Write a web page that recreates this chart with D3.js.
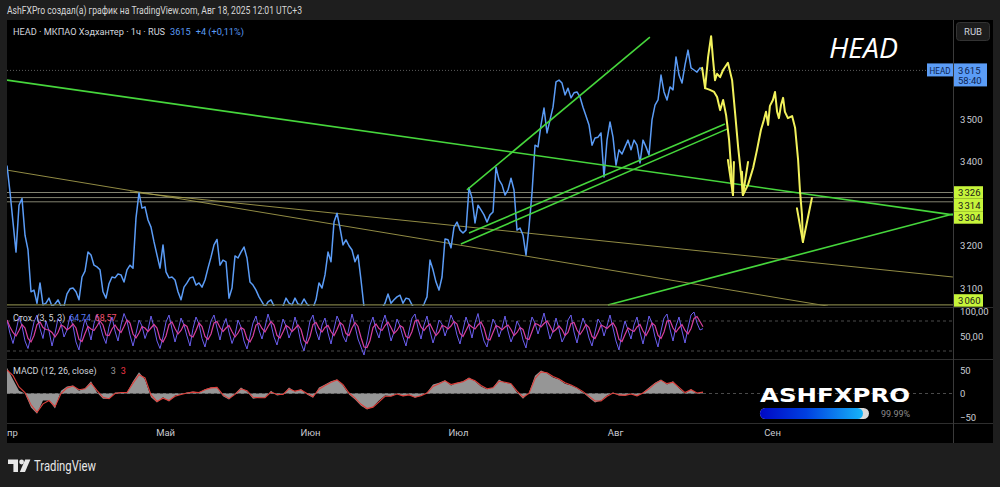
<!DOCTYPE html>
<html><head><meta charset="utf-8">
<script src="https://cdn.jsdelivr.net/npm/d3@7"></script>
<style>html,body{margin:0;padding:0;background:#1e1e1e;overflow:hidden}</style>
</head><body>
<svg id="c" width="1000" height="487"></svg>
<script>
// ---------- DATA ----------
const priceValues = [
3390,3327,3256,3185,3296,3312,3225,3190,3091,3095,
3064,3112,3060,3064,3076,3057,3062,3072,3057,3057,
3086,3098,3100,3091,3072,3126,3140,3185,3178,3154,
3150,3143,3091,3076,3110,3126,3124,3133,3131,3114,
3143,3154,3147,3266,3325,3289,3292,3261,3244,3209,
3178,3147,3202,3138,3124,3126,3119,3091,3072,3102,
3112,3124,3126,3107,3112,3102,3119,3147,3173,3202,
3215,3154,3166,3162,3076,3100,3176,3171,3185,3197,
3171,3114,3107,3095,3079,3067,3055,3067,3072,3057,
3053,3053,3057,3076,3064,3060,3076,3062,3060,3074,
3062,3055,3053,3072,3112,3100,3131,3185,3162,3256,
3277,3242,3202,3214,3200,3190,3162,3178,3119,3055,
3045,3042,3040,3043,3047,3052,3064,3086,3064,3072,
3079,3083,3064,3076,3074,3060,3050,3048,3050,3062,
3079,3166,3143,3114,3095,3126,3216,3214,3195,3244,
3256,3237,3230,3237,3337,3313,3254,3296,3285,3273,
3256,3273,3280,3386,3356,3344,3320,3332,3360,3332,
3237,3242,3225,3178,3244,3325,3438,3434,3486,3526,
3467,3498,3528,3588,3592,3585,3557,3573,3550,3562,
3564,3552,3528,3507,3486,3438,3455,3457,3467,3363,
3450,3493,3457,3391,3427,3417,3434,3450,3427,3450,
3438,3396,3450,3434,3415,3498,3533,3545,3604,3564,
3545,3576,3569,3647,3604,3585,3628,3663,3621,3616,
3611,3621,3615];

const stochK = [
82,55,35,60,88,70,40,25,50,78,
92,65,45,80,60,30,55,85,75,48,
62,90,70,38,22,58,84,66,42,75,
93,72,50,35,68,88,60,40,72,95,
80,52,30,55,82,70,45,62,90,68,
40,25,48,78,92,64,38,60,86,72,
50,30,65,88,74,45,28,55,80,92,
66,42,70,85,58,35,52,82,68,40,
24,50,76,90,62,44,68,94,74,48,
32,58,84,70,46,62,88,66,36,20,
48,80,92,60,42,72,86,56,34,64,
90,76,50,38,66,94,70,44,28,12,
40,72,88,62,46,74,92,68,40,58,
84,70,48,30,60,86,94,66,44,72,
90,60,36,56,82,74,50,68,92,78,
52,34,62,88,70,46,76,95,64,40,
28,58,84,72,48,66,90,60,38,54,
80,68,42,26,62,88,76,54,74,96,
70,44,60,86,64,38,50,82,92,58,
36,64,86,70,46,30,58,84,74,50,
70,92,66,40,22,56,80,62,44,72,
88,58,34,62,90,76,48,28,60,86,
94,64,40,70,88,60,36,66,92,98,
76,62,64.74];

const stochD = [
82,68,57,50,61,73,66,45,38,51,
73,78,67,63,62,57,48,57,72,69,
62,67,74,66,43,39,55,69,64,61,
70,80,72,52,51,64,72,63,57,69,
82,76,54,46,56,69,66,59,66,73,
66,44,38,50,73,78,65,54,61,73,
69,51,48,61,76,69,49,43,54,76,
79,67,59,66,71,59,48,56,67,63,
44,38,50,72,76,65,58,69,79,72,
51,46,58,71,67,59,65,72,63,41,
35,49,73,77,65,58,67,71,59,51,
63,77,72,55,51,66,77,69,47,28,
27,41,67,74,65,61,71,78,67,55,
61,71,67,49,46,59,80,82,68,61,
69,74,62,51,58,71,69,64,70,79,
74,55,49,61,73,68,64,72,78,66,
44,42,57,71,68,62,68,72,63,51,
57,67,63,45,43,59,75,73,68,75,
80,70,58,63,70,63,51,57,75,77,
62,53,62,73,67,49,45,57,72,69,
65,71,76,66,43,39,53,66,62,59,
68,73,60,51,62,76,71,51,45,58,
80,81,66,58,66,73,61,54,65,85,
89,79,68.57];

// MACD sampled every 2 bars
const macdValues = [
55,30,6,0,-30,-43,-15,-15,-32,6,
15,17,6,11,26,2,-11,-11,2,2,
2,26,45,30,-8,-19,-8,-17,-4,-2,
2,4,2,9,13,13,-6,-13,0,13,
4,-11,-9,-9,6,-4,-2,13,4,9,
-2,-9,13,19,26,30,17,-2,-13,-26,
-34,-28,-15,-4,-6,0,-6,-2,-9,-4,
2,19,23,28,17,23,26,34,26,15,
9,13,30,23,21,2,-11,2,38,49,
43,34,30,21,17,11,2,-9,-19,-15,
-4,2,-4,-4,0,-6,2,13,23,30,
19,26,11,0,9,0,3];
const macdSignal = [
50,38,14,2,-24,-40,-22,-15,-28,0,
12,16,8,10,22,6,-8,-11,0,2,
2,22,40,33,-3,-17,-10,-15,-6,-2,
1,3,2,8,12,13,-3,-11,-2,10,
6,-8,-9,-9,3,-2,-2,10,5,8,
0,-7,9,17,24,29,19,1,-10,-23,
-32,-29,-18,-6,-6,-1,-5,-3,-8,-5,
1,15,21,27,19,22,25,32,27,17,
10,12,26,24,21,5,-8,0,32,46,
44,36,31,23,18,12,4,-6,-16,-16,
-6,1,-3,-4,-1,-5,1,10,21,28,
21,24,13,2,8,1,3];
const macdStep = 2;

const monthLabels = ["Апр","Май","Июн","Июл","Авг","Сен"];
const monthBars   = [0.6, 52.7, 101, 150.3, 202.7, 255];
const priceTicks  = [3100, 3200, 3400, 3500];
const stochTicks  = [100, 50];
const macdTicks   = [50, 0, -50];
const levelLines  = [3326, 3314, 3304];
const supportLevel = 3060;
const lastPrice = 3615;
const countdown = "58:40";

// drawn trend lines: [[bar, price],[bar, price]]
const greenLines = [
  [[0,3592],[315.3,3273]],
  [[200.3,3060],[315.3,3275]],
  [[153.3,3332],[214.3,3694]],
  [[154,3230],[239.3,3488]],
  [[151.3,3204],[240,3476]]
];
const oliveLines = [
  [[0,3379],[273.7,3057]],
  [[41,3327],[315.3,3126]]
];
// hand-drawn yellow projection
const projA = [[231.7,3621],[232.7,3573],[233.7,3647],[234.7,3696],[235.3,3644],[236,3592],[236.7,3607],[237.7,3599],[238.7,3616],[240.3,3633],[241.7,3592],[242.7,3514],[243.7,3434],[244.7,3367],[245.3,3320],
  [247,3344],[248.7,3384],[250,3427],[251.3,3474],[252.3,3498],[253,3517],[253.7,3486],[254.3,3531],[255.3,3545],[256,3564],[256.7,3517],[257.3,3502],[258,3533],[258.7,3550],[259.3,3517],[260.3,3502],[261.7,3507],[262.7,3479],[263.7,3403],[264.3,3332],[265,3273],[265.3,3209]];
const projB = [[232.7,3573],[234.3,3569],[235.7,3564],[236.7,3552],[237.7,3521],[238.7,3545],[239.7,3509],[240.7,3450],[241.3,3391],[242,3320]];
const arrowHeads = [
  [[240.3,3403],[242,3320],[242.3,3398]],
  [[245,3375],[245.3,3320],[247,3398]],
  [[263.3,3289],[265.3,3209],[268.3,3313]]
];

// ---------- LAYOUT ----------
const svg = d3.select("#c");
const L = 7, R = 953, RIGHT = 993;
const mainTop = 20, mainBot = 307, stTop = 307, stBot = 359, mdTop = 360, mdBot = 423, axBot = 443;
const visibleBars = 315.33;
const FONT = "Roboto, 'Noto Sans', sans-serif";

svg.append("rect").attr("width",1000).attr("height",487).attr("fill","#1e1e1e");
svg.append("rect").attr("x",L).attr("y",mainTop).attr("width",RIGHT-L).attr("height",axBot-mainTop).attr("fill","#000");

const x = d3.scaleLinear().domain([0, visibleBars]).range([L, R]);
const yP = d3.scaleLinear().domain([3100, 3500]).range([288, 119]);
const yS = d3.scaleLinear().domain([20, 80]).range([351, 321]);
const yM = d3.scaleLinear().domain([-50, 50]).range([417, 370]);

const defs = svg.append("defs");
function clip(id, y0, y1){ defs.append("clipPath").attr("id",id).append("rect").attr("x",L).attr("y",y0).attr("width",R-L).attr("height",y1-y0); }
clip("cm", mainTop, mainBot-1); clip("cs", stTop, stBot); clip("cd", mdTop, mdBot); clip("ct", mdBot, axBot);

[stTop+0.5, stBot+0.5, mdBot+0.5].forEach(yy=>{
  svg.append("line").attr("x1",L).attr("x2",RIGHT).attr("y1",yy).attr("y2",yy).attr("stroke","#2e2e2e");
});
svg.append("line").attr("x1",R+0.5).attr("x2",R+0.5).attr("y1",mainTop).attr("y2",axBot).attr("stroke","#3a3a3a");

function txt(sel, xx, yy, s, fill, size, len){
  const t = sel.append("text").attr("x",xx).attr("y",yy).text(s).attr("fill",fill).attr("font-size",size).attr("font-family",FONT);
  if (len) t.attr("textLength",len).attr("lengthAdjust","spacingAndGlyphs");
  return t;
}
// sequential legend: each piece placed after the measured width of the previous
function legendRow(xx, yy, size, parts){
  let cx = xx;
  parts.forEach(([s, fill, gap])=>{
    cx += gap || 0;
    const t = txt(svg, cx, yy, s, fill, size);
    cx += t.node().getComputedTextLength();
  });
}

// ---------- MAIN PANE ----------
const gm = svg.append("g").attr("clip-path","url(#cm)");
gm.append("line").attr("x1",L).attr("x2",R).attr("y1",yP(lastPrice)).attr("y2",yP(lastPrice))
  .attr("stroke","#5a5a5a").attr("stroke-dasharray","1,2");
levelLines.forEach(v=>{
  gm.append("line").attr("x1",L).attr("x2",R).attr("y1",yP(v)).attr("y2",yP(v)).attr("stroke","#a3a38c").attr("stroke-width",1).attr("opacity",0.8);
});
svg.append("line").attr("x1",L).attr("x2",R).attr("y1",yP(supportLevel)).attr("y2",yP(supportLevel)).attr("stroke","#7d7d45").attr("stroke-width",1.2);

const seg = d3.line().x(d=>x(d[0])).y(d=>yP(d[1]));
oliveLines.forEach(l=> gm.append("path").attr("d",seg(l)).attr("stroke","#aaa350").attr("stroke-width",1).attr("fill","none").attr("opacity",0.85));

const pLine = d3.line().x((d,i)=>x(i)).y(d=>yP(d));
gm.append("path").datum(priceValues).attr("d",pLine).attr("fill","none").attr("stroke","#5b9cf6").attr("stroke-width",1.5).attr("stroke-linejoin","round");

greenLines.forEach(l=> gm.append("path").attr("d",seg(l)).attr("stroke","#46d63c").attr("stroke-width",1.6).attr("fill","none"));

[projA, projB].concat(arrowHeads).forEach(p=> gm.append("path").attr("d",seg(p)).attr("stroke","#f2f25c").attr("stroke-width",2).attr("fill","none").attr("stroke-linejoin","round").attr("stroke-linecap","round"));

svg.append("text").attr("x",829).attr("y",58).text("HEAD").attr("fill","#fff").attr("font-family","'Open Sans', sans-serif")
  .attr("font-style","italic").attr("font-size",28).attr("textLength",69).attr("lengthAdjust","spacingAndGlyphs");

const fmtP = d => d3.format(",")(d).replace(",", "\u202F");
const ax = svg.append("g").attr("transform",`translate(${R+7},0)`).call(d3.axisRight(yP).tickValues(priceTicks).tickSize(0).tickFormat(fmtP));
ax.select(".domain").remove();
ax.selectAll("text").attr("fill","#c9ccd4").attr("font-size",9.5).attr("font-family",FONT).attr("x",0);

let prevY = -1e9;
levelLines.forEach(v=>{
  let cy = Math.max(yP(v), prevY + 12.5); prevY = cy;
  svg.append("rect").attr("x",R+1).attr("y",cy-6.3).attr("width",29).attr("height",12.5).attr("fill","#c6f43a");
  txt(svg, R+5, cy+3.5, fmtP(v), "#1a1a1a", 9.5);
});
{
  const cy = Math.min(yP(supportLevel), mainBot-6.5);
  svg.append("rect").attr("x",R+1).attr("y",cy-6.3).attr("width",29).attr("height",12.5).attr("fill","#c6f43a");
  txt(svg, R+5, cy+3.5, fmtP(supportLevel), "#1a1a1a", 9.5);
}
{
  const cy = yP(lastPrice);
  svg.append("rect").attr("x",927).attr("y",cy-7).attr("width",26).attr("height",13).attr("fill","#5b9cf6");
  txt(svg, 929.5, cy+3.5, "HEAD", "#0d2350", 9.5, 21);
  svg.append("rect").attr("x",R+1).attr("y",cy-7).attr("width",33).attr("height",23).attr("fill","#5b9cf6");
  txt(svg, R+5, cy+3.5, fmtP(lastPrice), "#0d2350", 9.5);
  txt(svg, R+5, cy+14, countdown, "#0d2350", 9.5);
}
svg.append("rect").attr("x",956.5).attr("y",22.5).attr("width",33).attr("height",18).attr("rx",3).attr("fill","#1c1c1c").attr("stroke","#333");
txt(svg, 973, 35, "RUB", "#d1d4dc", 9.5).attr("text-anchor","middle");

// legend
legendRow(13, 35, 9.2, [
  ["HEAD · МКПАО Хэдхантер · 1ч · RUS", "#d1d4dc", 0],
  [String(lastPrice), "#5b9cf6", 5],
  ["+4 (+0,11%)", "#5b9cf6", 5]
]);

txt(svg, 7, 14, "AshFXPro создал(а) график на TradingView.com, Авг 18, 2025 12:01 UTC+3", "#d6d6d6", 10, 295);

// ---------- STOCH ----------
const gs = svg.append("g").attr("clip-path","url(#cs)");
[80,20].forEach(v=> gs.append("line").attr("x1",L).attr("x2",R).attr("y1",yS(v)).attr("y2",yS(v)).attr("stroke","#4a4a4a").attr("stroke-dasharray","3,3"));
const sLine = d3.line().x((d,i)=>x(i)).y(d=>yS(d));
gs.append("path").datum(stochK).attr("d",sLine).attr("fill","none").attr("stroke","#6b5ff0").attr("stroke-width",1);
gs.append("path").datum(stochD).attr("d",sLine).attr("fill","none").attr("stroke","#d8409e").attr("stroke-width",1.2);
const fmt2 = d => d3.format(".2f")(d).replace(".", ",");
legendRow(13, 321, 8.8, [
  ["Стох. (3, 5, 3)", "#d1d4dc", 0],
  [fmt2(stochK[stochK.length-1]), "#5b7cfa", 4],
  [fmt2(stochD[stochD.length-1]), "#f0506e", 4]
]);
const as = svg.append("g").attr("transform",`translate(${R+7},0)`).call(d3.axisRight(yS).tickValues(stochTicks).tickSize(0).tickFormat(fmt2));
as.select(".domain").remove();
as.selectAll("text").attr("fill","#c9ccd4").attr("font-size",9.5).attr("font-family",FONT).attr("x",0);

// ---------- MACD ----------
const gd = svg.append("g").attr("clip-path","url(#cd)");
gd.append("line").attr("x1",L).attr("x2",R).attr("y1",yM(0)).attr("y2",yM(0)).attr("stroke","#4a4a4a").attr("stroke-dasharray","3,3");
const mArea = d3.area().x((d,i)=>x(i*macdStep)).y0(yM(0)).y1(d=>yM(d));
gd.append("path").datum(macdValues).attr("d",mArea).attr("fill","#a6a6a6").attr("opacity",0.9);
const mLine = d3.line().x((d,i)=>x(i*macdStep)).y(d=>yM(d));
gd.append("path").datum(macdSignal).attr("d",mLine).attr("fill","none").attr("stroke","#e0403c").attr("stroke-width",1.1);
legendRow(13, 374, 9, [
  ["MACD (12, 26, close)", "#d1d4dc", 0],
  [String(macdValues[macdValues.length-1]), "#9a9a9a", 14],
  [String(macdSignal[macdSignal.length-1]), "#f23645", 5]
]);
const am = svg.append("g").attr("transform",`translate(${R+7},0)`).call(d3.axisRight(yM).tickValues(macdTicks).tickSize(0).tickFormat(d=> d<0 ? "\u2212"+Math.abs(d) : String(d)));
am.select(".domain").remove();
am.selectAll("text").attr("fill","#c9ccd4").attr("font-size",9.5).attr("font-family",FONT).attr("x",0);

// watermark
svg.append("text").attr("x",760).attr("y",402).text("ASHFXPRO").attr("fill","#fff").attr("font-family","'DejaVu Sans', sans-serif")
  .attr("font-weight","bold").attr("font-size",20).attr("textLength",150).attr("lengthAdjust","spacingAndGlyphs");
const grad = defs.append("linearGradient").attr("id","pg").attr("x1","0").attr("x2","1");
grad.append("stop").attr("offset","0").attr("stop-color","#0008c4");
grad.append("stop").attr("offset","0.45").attr("stop-color","#0040e0");
grad.append("stop").attr("offset","1").attr("stop-color","#16b4f8");
svg.append("rect").attr("x",760).attr("y",408).attr("width",109).attr("height",11).attr("rx",5.5).attr("fill","#d9d9d9");
svg.append("rect").attr("x",760).attr("y",408).attr("width",103).attr("height",11).attr("rx",5.5).attr("fill","url(#pg)");
txt(svg, 881, 417, "99.99%", "#8c8c8c", 9);

// ---------- TIME AXIS ----------
const gt = svg.append("g").attr("clip-path","url(#ct)");
const at = gt.append("g").attr("transform",`translate(0,${mdBot})`).call(d3.axisBottom(x).tickValues(monthBars).tickSize(0).tickFormat((d,i)=>monthLabels[i]));
at.select(".domain").remove();
at.selectAll("text").attr("fill","#c8cad0").attr("font-size",9.5).attr("font-family",FONT).attr("dy","1.05em");

// ---------- TradingView logo ----------
const logo = svg.append("g").attr("fill","#e8e8e8");
logo.append("path").attr("d","M8,459.5 h10 v12.5 h-4.6 v-8 h-5.4 z");
logo.append("circle").attr("cx",21.6).attr("cy",462).attr("r",2.4);
logo.append("path").attr("d","M25.2,459.5 h5.2 l-5.4,12.5 h-5.2 z");
txt(svg, 34, 471, "TradingView", "#e8e8e8", 14.5, 62);
</script>
</body></html>
